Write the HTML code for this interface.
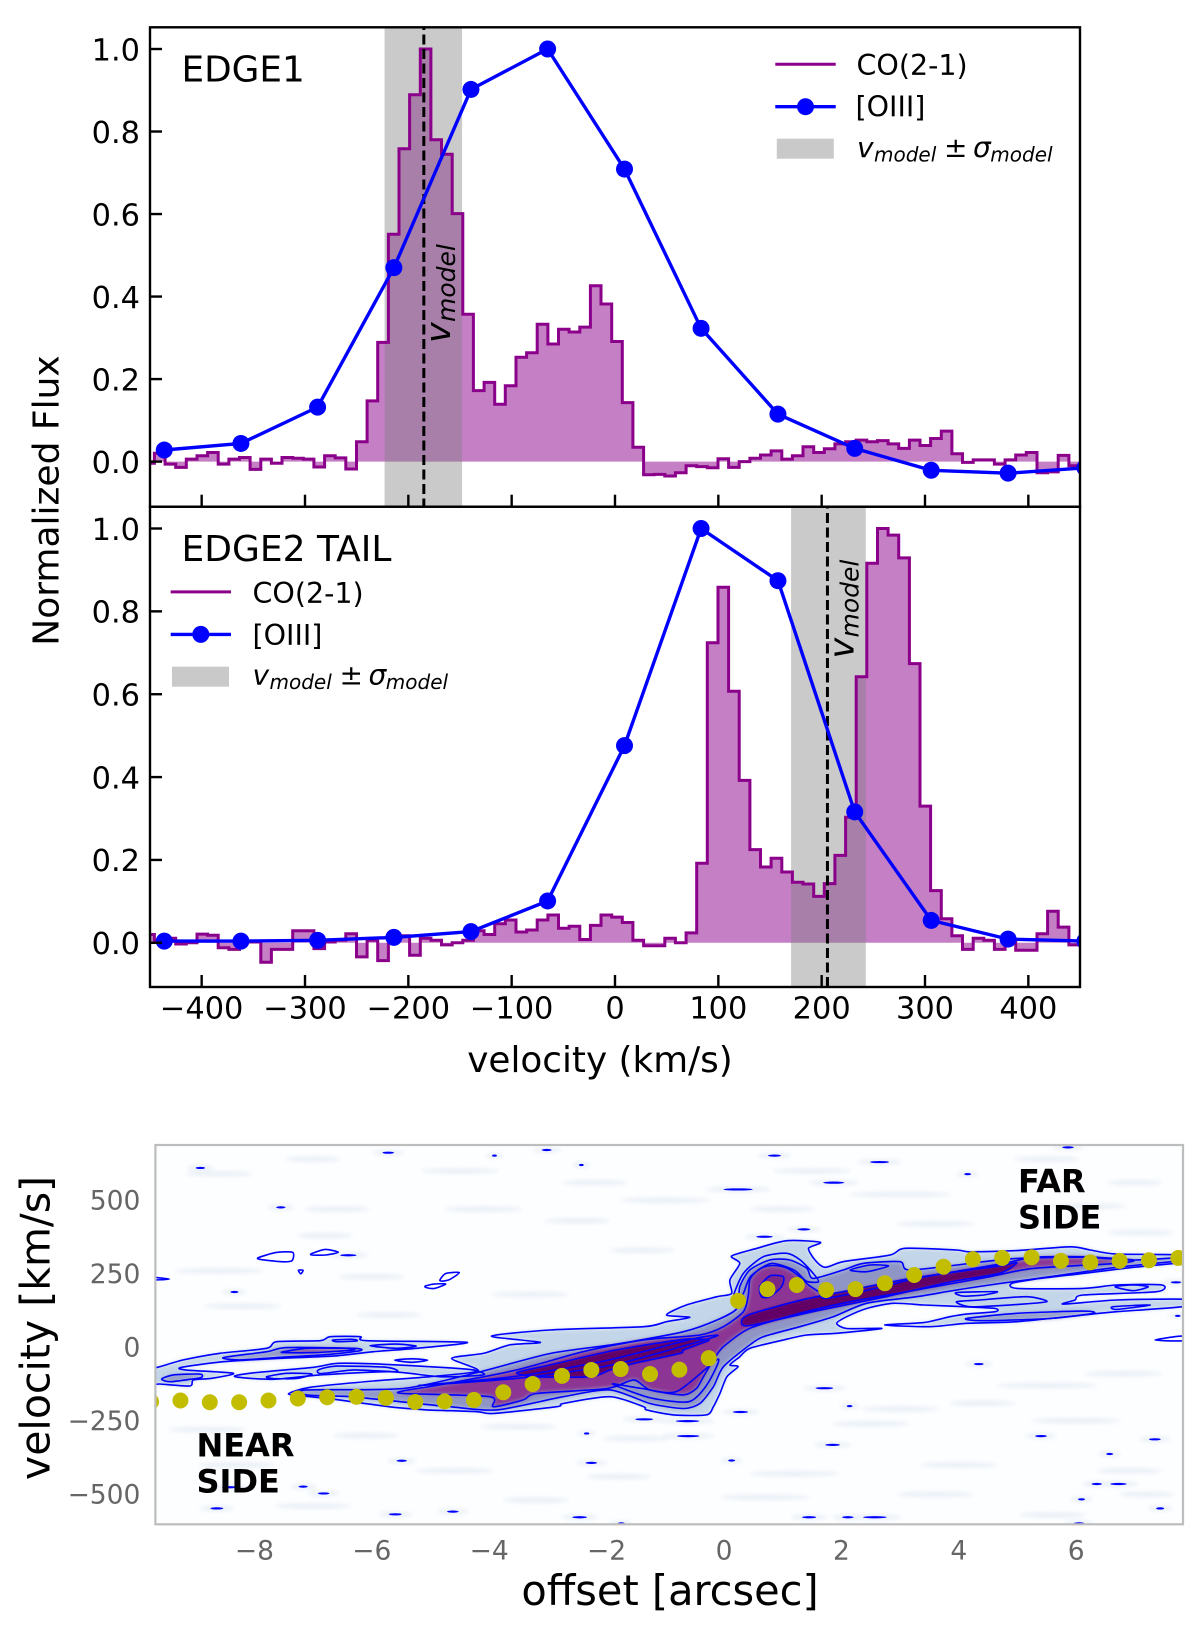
<!DOCTYPE html>
<html lang="en">
<head>
<meta charset="utf-8">
<title>CO(2-1) and [OIII] spectra with position-velocity diagram</title>
<style>
html,body{margin:0;padding:0;background:#fff;}
svg{display:block;}
text{font-family:"DejaVu Sans","Liberation Sans",sans-serif;fill:#000;}
</style>
</head>
<body>
<svg id="fig" xmlns="http://www.w3.org/2000/svg" width="1200" height="1631" viewBox="0 0 1200 1631">
<defs>
<clipPath id="clip-top"><rect x="150" y="27.3" width="930" height="479.4"/></clipPath>
<clipPath id="clip-mid"><rect x="150" y="506.7" width="930" height="480.3"/></clipPath>
<clipPath id="clip-pv"><rect x="155.4" y="1145" width="1027.6" height="379.3"/></clipPath>
<filter id="blur-soft" x="-10%" y="-30%" width="120%" height="160%"><feGaussianBlur stdDeviation="2.2"/></filter>
<filter id="blur-core" x="-10%" y="-30%" width="120%" height="160%"><feGaussianBlur stdDeviation="1.2"/></filter>
<filter id="blur-noise" x="-40%" y="-200%" width="180%" height="500%"><feGaussianBlur stdDeviation="2.2"/></filter>
</defs>
<rect width="1200" height="1631" fill="#fff"/>

<g id="top-panel" clip-path="url(#clip-top)"></g>
<g id="mid-panel" clip-path="url(#clip-mid)"></g>
<g id="axes-furniture"></g>

<text x="181.5" y="81.7" font-size="35.8">EDGE1</text>
<text x="181.5" y="561" font-size="36">EDGE2 TAIL</text>

<g transform="translate(450,343) rotate(-90)">
<text x="0" y="0" font-size="35" font-style="italic">v</text><text x="21" y="5" font-size="25" font-style="italic">model</text>
</g>
<g transform="translate(853.5,658.5) rotate(-90)">
<text x="0" y="0" font-size="35" font-style="italic">v</text><text x="21" y="5" font-size="25" font-style="italic">model</text>
</g>

<g>
<line x1="775.3" x2="835.7" y1="64.3" y2="64.3" stroke="#8b008b" stroke-width="3"/>
<text x="856.5" y="75" font-size="28.5">CO(2-1)</text>
<line x1="775.3" x2="835.7" y1="106.7" y2="106.7" stroke="#0000ff" stroke-width="3.4"/>
<circle cx="805.5" cy="106.7" r="8.5" fill="#0000ff"/>
<text x="855.5" y="116.7" font-size="28.5">[OIII]</text>
<rect x="776.8" y="138.7" width="57" height="20" fill="#c9c9c9"/>
<g>
<text x="857" y="157" font-size="28" font-style="italic">v</text><text x="874" y="161.7" font-size="20" font-style="italic">model</text><text x="944" y="157" font-size="28">±</text><text x="973" y="157" font-size="28" font-style="italic">σ</text><text x="990.3" y="161.7" font-size="20" font-style="italic">model</text>
</g>
</g>

<g>
<line x1="170.7" x2="231" y1="591.9" y2="591.9" stroke="#8b008b" stroke-width="3"/>
<text x="252.5" y="603" font-size="28.5">CO(2-1)</text>
<line x1="170.7" x2="231" y1="634.4" y2="634.4" stroke="#0000ff" stroke-width="3.4"/>
<circle cx="200.8" cy="634.4" r="8.5" fill="#0000ff"/>
<text x="252.5" y="645" font-size="28.5">[OIII]</text>
<rect x="172" y="666.7" width="57" height="20" fill="#c9c9c9"/>
<g>
<text x="252.5" y="684.5" font-size="28" font-style="italic">v</text><text x="269.5" y="689.2" font-size="20" font-style="italic">model</text><text x="339.5" y="684.5" font-size="28">±</text><text x="368.5" y="684.5" font-size="28" font-style="italic">σ</text><text x="385.8" y="689.2" font-size="20" font-style="italic">model</text>
</g>
</g>

<text transform="translate(58.5,500.5) rotate(-90)" text-anchor="middle" font-size="36">Normalized Flux</text>
<text x="600" y="1072" text-anchor="middle" font-size="35.8">velocity (km/s)</text>

<g id="pv-panel" clip-path="url(#clip-pv)"></g>
<rect x="155.4" y="1145" width="1027.6" height="379.3" fill="none" stroke="#bdbdbd" stroke-width="2.2"/>
<g id="pv-ticks"></g>

<text font-size="32" font-weight="bold"><tspan x="196.5" y="1456.7">NEAR</tspan><tspan x="196.5" y="1492.3">SIDE</tspan></text>
<text font-size="32" font-weight="bold"><tspan x="1018" y="1192.7">FAR</tspan><tspan x="1018" y="1228.7">SIDE</tspan></text>

<text transform="translate(49.7,1328) rotate(-90)" text-anchor="middle" font-size="41">velocity [km/s]</text>
<text x="670" y="1605" text-anchor="middle" font-size="41.5">offset [arcsec]</text>
</svg>

<script>
// ---------- spectra data ----------
const channelStart = -456;
const channelWidth = 10.29;
const coEdge1 = [-.004,.02,-.006,-.014,.006,.014,.022,-.006,.006,.01,-.019,.006,-.004,.01,.008,.006,-.013,.014,.009,-.018,
  .048,.147,.289,.551,.758,.889,1.0,.78,.745,.601,.357,.172,.192,.139,.184,.253,.264,.333,.285,.321,.314,.326,.426,.382,.291,.143,.035,
  -.032,-.031,-.035,-.027,-.01,-.012,-.015,.007,-.014,0,.008,.016,.026,.006,.014,.036,.022,.031,.043,.048,.052,.048,.051,.043,.032,.052,.039,.056,.074,.019,-.002,.004,.004,-.006,.004,.016,.022,-.027,-.025,.015,-.01,-.012];
const coEdge2 = [.02,.006,.011,-.003,0,.021,.018,-.012,-.016,.002,.002,-.047,-.016,-.016,.029,.029,-.014,.002,.006,.022,
  -.034,.006,-.043,.017,.017,-.03,.011,.006,-.005,0,.006,.029,.02,.046,.055,.026,.031,.055,.067,.035,.04,.008,.042,.067,.062,.049,.006,
  -.007,-.007,.011,0,.024,.192,.724,.858,.607,.392,.225,.183,.204,.171,.146,.142,.112,.143,.211,.303,.642,.916,1.0,.984,.929,.674,.33,.126,.058,.017,-.016,.011,.006,-.016,.006,-.018,-.018,.022,.076,.038,-.005,-.005];
const oiiiVelocity = [-436.2,-362,-287.8,-214,-139.4,-65.2,9.2,83.3,157.7,232,306,380.4,454.7];
const oiiiEdge1 = [.028,.044,.132,.47,.902,1.0,.709,.323,.115,.032,-.021,-.028,-.015];
const oiiiEdge2 = [.004,.004,.006,.013,.027,.101,.476,1.0,.874,.316,.054,.009,.004];
const bandEdge1 = [-223,-148];
const bandEdge2 = [170.4,242.7];
const vModelEdge1 = [-185];
const vModelEdge2 = [205.6];
const velocityTicks = [-400,-300,-200,-100,0,100,200,300,400];
const fluxTicks = [0,0.2,0.4,0.6,0.8,1.0];

// ---------- position-velocity data: [offset arcsec, velocity km/s] ----------
const rotationOffsets = [-9.76,-9.26,-8.76,-8.26,-7.76,-7.26,-6.76,-6.26,-5.76,-5.26,-4.76,-4.26,-3.76,-3.26,-2.76,-2.26,-1.76,-1.26,-.76,-.26,.24,.74,1.24,1.74,2.24,2.74,3.24,3.74,4.24,4.74,5.24,5.74,6.24,6.74,7.24,7.74];
const rotationVelocities = [-185,-181,-187,-187,-181,-174,-170,-168,-172,-186,-184,-179,-153,-125,-97,-77,-74,-91,-76,-37,158,198,212,195,198,218,246,274,300,304,306,294,289,294,296,304];

const outerContours = [
 [[-9.75,-68],[-9.65,-68],[-9.21,-43],[-8.59,-20.5],[-7.79,-3.5],[-7.62,19],[-6.88,22.5],[-6.71,36],[-6.2,36],[-6.09,22.5],[-4.38,17],[-5.24,-3.5],[-5.97,-15],[-6.66,-30],[-7.56,-37.5],[-8.53,-49],[-9.24,-68],[-9.18,-77],[-8.36,-88.5],[-8.73,-105.6],[-9.04,-111],[-9.1,-131.6],[-9.61,-125],[-9.75,-125]],
 [[-8.33,-100],[-8.08,-88.5],[-6.99,-68],[-6.6,-54.6],[-5.86,-57],[-4.84,-68],[-4.27,-77],[-4.1,-94],[-4.84,-100],[-5.69,-83],[-6.88,-94],[-7.68,-109]],
 [[-5.61,-44],[-5.32,-39],[-5.05,-44],[-5.32,-51]],
 [[-7.42,-159],[-7.05,-136],[-5.97,-114.6],[-5.01,-100],[-4.19,-80],[-4.64,-37.6],[-4.1,-20.6],[-3.65,8],[-3.13,17],[-3.96,38],[-2.96,59],[-1.37,70],[-.98,87],[-.58,102],[-.98,110],[-.64,144],[-.12,172],[.13,183],[.1,229],[.27,285.5],[.13,310.5],[.56,336.6],[1.07,362.6],[1.64,357],[1.44,336.6],[1.55,297],[1.72,272],[2.03,291],[2.83,314],[3.08,336.6],[3.96,331],[4.19,325],[4.99,329],[5.9,342],[6.24,331],[6.69,317],[7.9,314],[7.9,291],[6.97,272],[6.12,251.5],[5.27,231],[4.9,217],[4.99,200.5],[6.12,200.5],[6.69,212],[7.46,212],[7.37,189],[6.12,178],[5.98,161],[5.78,147],[6.69,161],[7.9,163],[7.9,140],[6.69,121],[6.12,110],[4.99,87],[4.13,81.5],[3.51,70],[2.74,76],[3.4,84],[3.85,104],[4.13,113],[4.62,121],[4.62,132],[4.08,138],[3.4,144],[2.88,149.5],[2.43,132],[2.09,104],[1.92,81.5],[2.09,64],[2.69,64],[1.92,47.5],[1.41,42],[1.01,25],[.44,-3.6],[.27,-32],[.1,-60],[.24,-66],[.05,-100],[-.07,-157],[-.18,-202],[-.3,-230],[-.86,-230],[-1.32,-213],[-1.37,-202],[-1.94,-168],[-2.74,-191],[-2.85,-202],[-3.93,-225],[-4.21,-219],[-5.06,-213],[-5.58,-205],[-6.09,-192],[-6.6,-178],[-7.05,-168]]
];
const midContours = [
 [[-7.11,-145],[-5.46,-140],[-4.21,-86],[-2.96,-21],[-1.83,11],[-.69,53],[-.12,93],[.22,132],[.27,206],[.44,263],[.78,297],[1.12,297],[1.41,268.5],[1.52,234.5],[2.03,263],[2.37,285.5],[3.0,291],[3.17,263],[4.42,291],[5,302.5],[6.12,306],[6.97,297],[7.9,306],[7.9,297],[6.69,272],[5.55,240],[4.7,217],[3.96,195],[3.28,172],[2.43,149.5],[1.86,104],[1.29,70],[.67,36],[.44,8],[-.01,-66],[-.18,-134],[-.41,-191],[-.69,-208],[-1.26,-191],[-1.94,-145],[-2.74,-168],[-3.87,-213],[-4.67,-202],[-5.52,-185],[-6.37,-168],[-7.11,-162]],
 [[-8.53,-35],[-7.79,-15],[-7.45,-1],[-6.31,-3.5],[-6.2,-11.5],[-6.77,-25],[-7.56,-34],[-8.25,-43]],
 [[-9.58,-108],[-9.38,-94],[-8.93,-91],[-8.9,-102],[-9.1,-109],[-9.44,-117]],
 [[4.13,98],[4.99,115.5],[6.12,123],[6.29,115.5],[5.55,98],[4.42,90.5]]
];
const innerContours = [
 [[-5.46,-148],[-4.84,-128],[-3.53,-77],[-2.4,-15],[-1.37,25],[-.41,42],[-.01,70],[.33,121],[.41,172],[.44,229],[.52,252],[.64,270],[.8,278],[.98,275],[1.14,262],[1.3,238],[1.44,212],[1.61,189],[1.75,166.5],[2.71,206],[3.28,234.5],[4.76,285.5],[5.27,306],[6.12,308],[6.97,297],[6.69,285.5],[5.27,268.5],[4.53,240],[3.28,195],[2.15,155],[1.29,115.5],[.44,64.5],[-.01,2],[-.18,-43],[-.35,-100],[-.47,-140],[-.69,-162],[-1.26,-145],[-1.54,-111],[-1.99,-140],[-3.19,-157],[-3.42,-179],[-3.93,-202],[-3.99,-168],[-5.46,-157]],
 [[-7.5,-15],[-7.11,-3.5],[-6.43,-3.5],[-6.31,-9],[-6.99,-18],[-7.5,-18]]
];
const coreContours = [
 [[-3.53,-86],[-2.96,-60],[-1.83,-9],[-.69,27],[-.35,27],[-.27,22.5],[-.69,-9],[-.75,-20.5],[-1.54,-55],[-1.94,-77],[-2.28,-100],[-3.19,-100]],
 [[.3,87],[.44,112],[1.3,160],[2.15,194],[3.17,234],[4.7,277],[4.99,288],[4.7,252],[3.85,222],[2.71,170],[1.58,124],[.44,74]]
];
const blobContours = [
 [[.61,206],[.78,242.5],[1.01,240],[.98,206],[.78,172],[.64,172]]
];
const extraLoops = [
 [[-6.03,5.5],[-5.58,11],[-5.24,4],[-5.58,-3.5]],
 [[-6.66,25],[-6.31,27],[-6.26,21.5],[-6.6,19]],
 [[-7.79,-100],[-7.45,-88.5],[-7.02,-91],[-7.28,-106],[-7.68,-106]],
 [[-6.91,-77],[-6.6,-64],[-5.75,-68],[-5.58,-83],[-6.31,-77],[-6.86,-89]],
 [[.16,172],[.33,251.5],[.67,308],[1.07,319.6],[1.3,297],[1.52,251.5],[1.61,223],[1.4,225],[1.2,262],[.8,285],[.45,240],[.32,180]],
 [[3.96,186],[4.65,189],[4.42,178],[4.08,174]],
 [[3.96,155],[4.36,161],[5.16,172],[5.5,155],[4.87,144],[4.19,138]],
 [[6.66,206],[6.97,212],[7.23,206],[6.97,192.6]],
 [[6.63,138],[7.26,144],[6.69,129]],
 [[2.15,263],[2.49,280],[2.8,276.5],[2.43,257]],
 [[-5.2,-130],[-3.5,-105],[-1.9,-60],[-.5,15],[-.1,40],[-.5,30],[-2,-45],[-3.6,-100]],
 [[-.1,-40],[-.3,-130],[-.6,-185],[-1.25,-172],[-1.9,-125],[-1.4,-140],[-.8,-150]],
 [[-7.93,305],[-7.64,322],[-7.35,323],[-7.36,295],[-7.54,291],[-7.9,299]],
 [[-7.02,319],[-6.79,333],[-6.57,323],[-6.79,314],[-7.02,314]],
 [[-7.25,262],[-7.17,262],[-7.21,250]],
 [[-4.84,229],[-4.74,251],[-4.51,254],[-4.67,231],[-4.8,225]],
 [[-5.09,208],[-4.94,215],[-4.74,215],[-4.94,200],[-5.07,203]],
 [[-9.75,229],[-9.45,232],[-9.75,238]],
 [[7.34,25],[7.8,38],[7.8,22]]
];
const islands = [
 [-8.92,610,.16],[-5.72,662,.2],[-3.91,652,.08],[-3.02,671,.17],[-2.43,620,.08],[-7.55,476,.16],[-8.34,188,.14],[-6.4,313,.28],[-5.49,-386,.18],[-2.34,-293,.09],[-2.26,-393,.2],[-7.17,-474,.16],[-6.82,-497,.2],[-8.64,-548,.22],[-5.6,-568,.22],[-4.62,-559,.2],[-2.46,-578,.25],[-8.42,-476,.26],
 [.86,652,.22],[2.65,630,.32],[4.15,589,.12],[5.86,680,.2],[1.87,560,.36],[.24,537,.5],[1.36,401,.22],[.69,376,.28],[4.34,-57,.17],[1.71,-139,.3],[2.14,-200,.1],[.28,-220,.26],[-1.36,-245,.3],[-.62,-251,.4],[-.61,-302,.38],[1.85,-332,.25],[.13,-385,.12],[5.4,-302,.2],[7.34,-313,.2],[6.57,-363,.12],[6.35,-465,.18],[6.72,-465,.28],[6.09,-517,.12],[7.43,-548,.14],[1.45,-578,.24],[2.11,-578,.2],[2.57,-578,.4],[6.05,-599,.18],[7.7,221,.18],[7.73,107,.1],[-1.75,-599,.12]
];
const faintStreaks = [
 [-8.6,590,.5],[-7,640,.4],[-4.5,600,.6],[-2.2,560,.5],[-6.6,470,.5],[-4.1,470,.6],[-2.5,430,.5],[-6.8,380,.4],[-8.6,260,.7],[-6,240,.5],[-3.3,180,.6],[-8.2,140,.6],[-5.7,110,.5],
 [1.5,600,.6],[3,520,.8],[5.5,640,.5],[7,560,.4],[-1,500,.7],[1,470,.5],[3.6,420,.6],[6.2,480,.6],[-1.4,330,.5],[7.1,390,.5],
 [-8.8,-280,.6],[-6.1,-300,.5],[-3.5,-270,.6],[-1.5,-310,.5],[3,-210,.6],[5.5,-130,.8],[6.8,-90,.6],[4.4,-190,.5],[2.5,-260,.6],[6,-250,.7],
 [-8.3,-400,.6],[-4.6,-420,.6],[-1.8,-440,.5],[1.2,-430,.7],[4,-400,.6],[6.9,-420,.5],[-7,-540,.6],[-3.2,-520,.5],[.7,-510,.7],[3.6,-500,.6],[5.6,-570,.5],[7.2,-500,.4]
];
const offsetTicks = [-8,-6,-4,-2,0,2,4,6];
const pvVelocityTicks = [-500,-250,0,250,500];

// ---------- axis functions ----------
const xV = v => 615 + 1.03333 * v;
const yTop = f => 461.6 - 412.6 * f;
const yMid = f => 942.8 - 414.3 * f;
const xO = o => 724 + 58.7 * o;
const yP = v => 1347.3 - 0.294 * v;

const NS = 'http://www.w3.org/2000/svg';
function el(tag, parent, attrs, txt) {
  const n = document.createElementNS(NS, tag);
  for (const k in attrs) n.setAttribute(k, attrs[k]);
  if (txt !== undefined) n.textContent = txt;
  parent.appendChild(n);
  return n;
}
const fmtTick = v => String(v).replace('-', '\u2212');

function drawSpectrum(g, y, co, oiii, band, vModel, key) {
  let fill = 'M' + xV(channelStart) + ' ' + y(0);
  let line = '';
  co.forEach((val, i) => {
    const a = xV(channelStart + i * channelWidth), b = xV(channelStart + (i + 1) * channelWidth);
    fill += ' L' + a.toFixed(1) + ' ' + y(val).toFixed(1) + ' L' + b.toFixed(1) + ' ' + y(val).toFixed(1);
    line += (i ? ' L' : 'M') + a.toFixed(1) + ' ' + y(val).toFixed(1) + ' L' + b.toFixed(1) + ' ' + y(val).toFixed(1);
  });
  fill += ' L' + xV(channelStart + co.length * channelWidth) + ' ' + y(0) + ' Z';

  const f = el('path', g, {d: fill, fill: '#8b008b', 'fill-opacity': '0.5'});
  
  

  const b = el('rect', g, {x: xV(band[0]), y: 20, width: xV(band[1]) - xV(band[0]), height: 980, fill: '#808080', 'fill-opacity': '0.42'});
  
  

  const l = el('path', g, {d: line, fill: 'none', stroke: '#8b008b', 'stroke-width': '3', 'stroke-linejoin': 'miter'});
  
  

  const d = el('line', g, {x1: xV(vModel[0]), x2: xV(vModel[0]), y1: 20, y2: 1000, stroke: '#000', 'stroke-width': '3', 'stroke-dasharray': '10 4.5'});
  
  

  const pts = oiiiVelocity.map((v, i) => xV(v).toFixed(1) + ',' + y(oiii[i]).toFixed(1)).join(' ');
  const o = el('polyline', g, {points: pts, fill: 'none', stroke: '#0000ff', 'stroke-width': '3.4'});
  
  
  oiiiVelocity.forEach((v, i) => {
    const c = el('circle', g, {cx: xV(v), cy: y(oiii[i]), r: 8.5, fill: '#0000ff'});
    
    
  });
}

drawSpectrum(document.getElementById('top-panel'), yTop, coEdge1, oiiiEdge1, bandEdge1, vModelEdge1, 'edge1');
drawSpectrum(document.getElementById('mid-panel'), yMid, coEdge2, oiiiEdge2, bandEdge2, vModelEdge2, 'edge2');

// axes
const ax = document.getElementById('axes-furniture');
[[27.3, 506.7], [506.7, 987]].forEach((p, idx) => {
  const r = el('rect', ax, {x: 150, y: p[0], width: 930, height: p[1] - p[0], fill: 'none', stroke: '#000', 'stroke-width': '2.4'});
  
  
  velocityTicks.forEach(v => {
    const t = el('line', ax, {x1: xV(v), x2: xV(v), y1: p[1] - 12, y2: p[1], stroke: '#000', 'stroke-width': '2.4'});
    
    
  });
  const yf = idx ? yMid : yTop;
  fluxTicks.forEach(f => {
    const t = el('line', ax, {x1: 150, x2: 162, y1: yf(f), y2: yf(f), stroke: '#000', 'stroke-width': '2.4'});
    
    
    const lab = el('text', ax, {x: 140, y: yf(f) + 11.3, 'text-anchor': 'end', 'font-size': '30.4'}, f.toFixed(1));
    
    
  });
});
velocityTicks.forEach(v => {
  const lab = el('text', ax, {x: xV(v), y: 1018.5, 'text-anchor': 'middle', 'font-size': '30.4'}, fmtTick(v));
  
  
});

// ---------- position-velocity diagram ----------
const pv = document.getElementById('pv-panel');
const pvBg = el('rect', pv, {x: 155, y: 1145, width: 1030, height: 380, fill: '#fdfeff'});



const noise = el('g', pv, {filter: 'url(#blur-noise)'});


faintStreaks.concat(islands).forEach(s => {
  const e = el('ellipse', noise, {cx: xO(s[0]), cy: yP(s[1]), rx: xO(s[2]) - xO(0) + 4, ry: 2.6, fill: '#e8eff6'});
  
  
});

// closed Catmull-Rom path through data-space contour vertices
function smooth(poly) {
  const p = poly.map(q => [xO(q[0]), yP(q[1])]);
  const n = p.length;
  let d = 'M' + p[0][0].toFixed(1) + ' ' + p[0][1].toFixed(1);
  for (let i = 0; i < n; i++) {
    const a = p[(i - 1 + n) % n], b = p[i], c = p[(i + 1) % n], e = p[(i + 2) % n];
    const k = 0.125;
    d += ' C' + (b[0] + (c[0] - a[0]) * k).toFixed(1) + ' ' + (b[1] + (c[1] - a[1]) * k).toFixed(1) + ' ' +
         (c[0] - (e[0] - b[0]) * k).toFixed(1) + ' ' + (c[1] - (e[1] - b[1]) * k).toFixed(1) + ' ' +
         c[0].toFixed(1) + ' ' + c[1].toFixed(1);
  }
  return d + ' Z';
}

const fills = el('g', pv, {filter: 'url(#blur-soft)'});


outerContours.forEach(poly => {
  const p = el('path', fills, {d: smooth(poly), fill: '#c3d5e8'});
  
  
});
midContours.forEach(poly => {
  const p = el('path', fills, {d: smooth(poly), fill: '#8f96c6'});
  
  
});
innerContours.forEach(poly => {
  const p = el('path', fills, {d: smooth(poly), fill: '#8c3495'});
  
  
});
const peaks = el('g', pv, {filter: 'url(#blur-core)'});


coreContours.forEach(poly => {
  const p = el('path', peaks, {d: smooth(poly), fill: '#620566'});
  
  
});
blobContours.forEach(poly => {
  const p = el('path', peaks, {d: smooth(poly), fill: '#7b2585'});
  
  
});

const lines = el('g', pv, {fill: 'none', stroke: '#0000ff', 'stroke-width': '1.6', 'stroke-linejoin': 'round'});


outerContours.concat(midContours, innerContours, coreContours, blobContours, extraLoops).forEach(poly => {
  const p = el('path', lines, {d: smooth(poly)});
  
  
});
islands.forEach(s => {
  const e = el('ellipse', pv, {cx: xO(s[0]), cy: yP(s[1]), rx: (xO(s[2]) - xO(0)) / 2, ry: 1.1, fill: '#0000ff'});
  
  
});

rotationOffsets.forEach((o, i) => {
  const c = el('circle', pv, {cx: xO(o), cy: yP(rotationVelocities[i]), r: 8, fill: '#c3bd00'});
  
  
});

const pt = document.getElementById('pv-ticks');
offsetTicks.forEach(o => {
  const t = el('text', pt, {x: xO(o), y: 1559.3, 'text-anchor': 'middle', 'font-size': '26.5', style: 'fill:#666'}, fmtTick(o));
  
  
});
pvVelocityTicks.forEach(v => {
  const t = el('text', pt, {x: 140.4, y: yP(v) + 9, 'text-anchor': 'end', 'font-size': '26.5', style: 'fill:#666'}, fmtTick(v));
  
  
});
</script>
</body>
</html>
